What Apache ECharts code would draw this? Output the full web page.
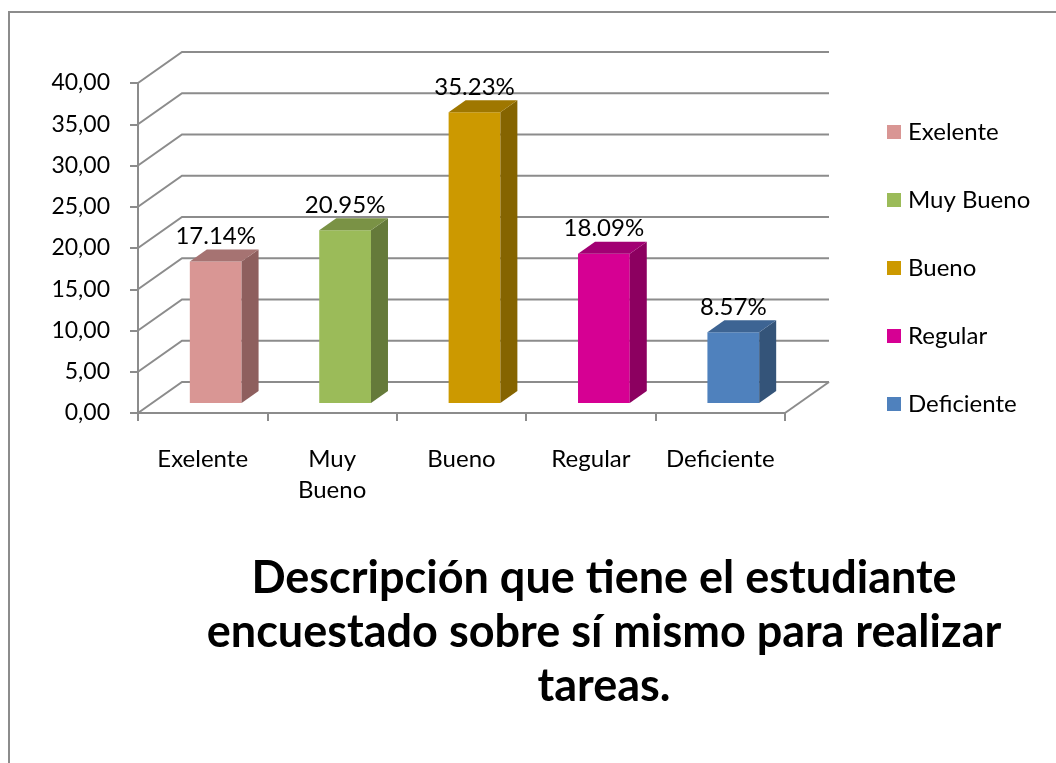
<!DOCTYPE html>
<html>
<head>
<meta charset="utf-8">
<script src="https://cdn.jsdelivr.net/npm/echarts@6/dist/echarts.min.js"></script>
<style>
html, body { margin: 0; padding: 0; background: #fff; }
#chart { width: 1056px; height: 763px; }
</style>
</head>
<body>
<div id="chart"></div>
<script>
const categories = ['Exelente', 'Muy Bueno', 'Bueno', 'Regular', 'Deficiente'];
const values = [17.14, 20.95, 35.23, 18.09, 8.57];
const valueLabels = ['17.14%', '20.95%', '35.23%', '18.09%', '8.57%'];
const yTicks = [0, 5, 10, 15, 20, 25, 30, 35, 40];
const titleLines = [
    'Descripción que tiene el estudiante',
    'encuestado sobre sí mismo para realizar',
    'tareas.'
];

// front, side, top
const barColors = [
    ['#D99694', '#8E5F5E', '#A67372'],
    ['#9BBB59', '#657A3A', '#7A9245'],
    ['#CC9900', '#856400', '#9F7700'],
    ['#D60093', '#8C0060', '#A20073'],
    ['#4F81BD', '#345479', '#3D6493']
];

const FONT = 'Lato, "Liberation Sans", sans-serif';
const GRAY = '#8c8c8c';
const WALL_DX = 44, WALL_DY = -31;
const BAR_DX = 13, BAR_DY = -10;
const SIDE_DX = 17, SIDE_DY = -12;

const chart = echarts.init(document.getElementById('chart'));

function renderWall(params, api) {
    const cs = params.coordSys;
    const v = api.value(1);
    const y = api.coord([0, v])[1];
    const x0 = cs.x;
    const x1 = cs.x + cs.width;
    const children = [{
        type: 'polyline',
        shape: { points: [[x0, y], [x0 + WALL_DX, y + WALL_DY], [x1 + WALL_DX, y + WALL_DY]] },
        style: { stroke: GRAY, lineWidth: 2, fill: null }
    }];
    if (v === 0) {
        children.push({
            type: 'line',
            shape: { x1: x1, y1: y, x2: x1 + WALL_DX, y2: y + WALL_DY },
            style: { stroke: GRAY, lineWidth: 2 }
        });
    }
    return { type: 'group', children: children };
}

function renderBar(params, api) {
    const i = api.value(0);
    const top = api.coord([i, api.value(1)]);
    const base = api.coord([i, 0]);
    const w = api.size([1, 0])[0] * 0.4;
    const xl = top[0] - w / 2 + BAR_DX;
    const xr = xl + w;
    const yt = top[1] + BAR_DY;
    const yb = base[1] + BAR_DY;
    const c = barColors[i];
    return {
        type: 'group',
        children: [
            { type: 'polygon', shape: { points: [[xl, yt], [xr, yt], [xr, yb], [xl, yb]] }, style: { fill: c[0] } },
            { type: 'polygon', shape: { points: [[xr, yt], [xr + SIDE_DX, yt + SIDE_DY], [xr + SIDE_DX, yb + SIDE_DY], [xr, yb]] }, style: { fill: c[1] } },
            { type: 'polygon', shape: { points: [[xl, yt], [xr, yt], [xr + SIDE_DX, yt + SIDE_DY], [xl + SIDE_DX, yt + SIDE_DY]] }, style: { fill: c[2] } },
            {
                type: 'text', x: (xl + xr) / 2, y: yt - 25,
                style: { text: valueLabels[i], fontSize: 24, fontFamily: FONT, fill: '#000', align: 'center', verticalAlign: 'middle' }
            }
        ]
    };
}

const barSeries = categories.map(function (name, i) {
    return {
        name: name,
        type: 'custom',
        renderItem: renderBar,
        itemStyle: { color: barColors[i][0] },
        data: [[i, values[i]]],
        z: 5
    };
});

chart.setOption({
    animation: false,
    backgroundColor: '#fff',
    grid: { left: 138, right: 271, top: 83, bottom: 350 },
    legend: {
        data: categories,
        orient: 'vertical',
        left: 887,
        top: 120,
        padding: 0,
        icon: 'rect',
        itemWidth: 14,
        itemHeight: 14,
        itemGap: 44,
        textStyle: { fontSize: 24, lineHeight: 24, fontFamily: FONT, color: '#000', padding: [0, 0, 0, 2] }
    },
    xAxis: {
        type: 'category',
        data: categories,
        axisLine: { lineStyle: { color: GRAY, width: 2 } },
        axisTick: { show: true, length: 8, lineStyle: { color: GRAY, width: 2 } },
        axisLabel: {
            interval: 0, margin: 31, fontSize: 24, lineHeight: 31, fontFamily: FONT, color: '#000',
            formatter: function (v) { return v.replace(' ', '\n'); }
        }
    },
    yAxis: {
        type: 'value',
        min: 0,
        max: 40,
        interval: 5,
        axisLine: { show: true, lineStyle: { color: GRAY, width: 2 } },
        axisTick: { show: true, length: 8, lineStyle: { color: GRAY, width: 2 } },
        splitLine: { show: false },
        axisLabel: {
            margin: 28, fontSize: 23, fontFamily: FONT, color: '#000',
            formatter: function (v) { return v.toFixed(2).replace('.', ','); }
        }
    },
    graphic: [
        {
            type: 'rect',
            shape: { x: 9, y: 12, width: 1200, height: 900 },
            style: { fill: null, stroke: GRAY, lineWidth: 2 }
        },
        {
            type: 'text',
            x: 604, y: 551,
            style: {
                text: titleLines.join('\n'),
                fontSize: 45, fontWeight: 'bold', fontFamily: FONT, fill: '#000',
                lineHeight: 54, align: 'center', verticalAlign: 'top'
            }
        }
    ],
    series: [{
        type: 'custom',
        renderItem: renderWall,
        data: yTicks.map(function (v) { return [0, v]; }),
        silent: true,
        z: 1
    }].concat(barSeries)
});
</script>
</body>
</html>
